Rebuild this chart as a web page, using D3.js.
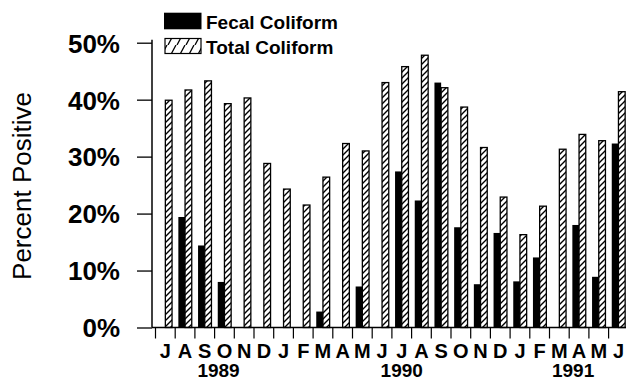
<!DOCTYPE html>
<html>
<head>
<meta charset="utf-8">
<script src="https://d3js.org/d3.v7.min.js"></script>
<style>
  body { margin: 0; background: white; }
  .ylab text { font-family: "Liberation Sans", Arial, sans-serif; font-weight: bold; font-size: 26px; fill: black; }
  .xlab text { font-family: "Liberation Sans", Arial, sans-serif; font-weight: bold; font-size: 20px; fill: black; }
  .year { font-family: "Liberation Sans", Arial, sans-serif; font-weight: bold; font-size: 19px; }
  .title { font-family: "Liberation Sans", Arial, sans-serif; font-size: 26px; }
  .legend text { font-family: "Liberation Sans", Arial, sans-serif; font-weight: bold; font-size: 19px; }
</style>
</head>
<body>
<svg id="chart" width="626" height="381"></svg>
<script>
// month labels, Jul 1989 .. Jun 1991
var months = ["J","A","S","O","N","D","J","F","M","A","M","J","J","A","S","O","N","D","J","F","M","A","M","J"];
// percent positive
var fecal = [0,19.4,14.4,8.0,0,0,0,0,2.8,0,7.2,0,27.4,22.3,43.0,17.6,7.6,16.6,8.1,12.3,0,18.0,8.9,32.3];
var total = [39.9,41.7,43.3,39.3,40.3,28.8,24.3,21.5,26.4,32.3,31.0,43.0,45.8,47.8,42.1,38.7,31.6,22.9,16.3,21.3,31.3,33.9,32.8,41.4];
var yTicks = [0,10,20,30,40,50];
var years = ["1989","1990","1991"];
var series = ["Fecal Coliform","Total Coliform"];

var svg = d3.select("#chart");

// pattern for the hatched bars
var defs = svg.append("defs");
defs.append("pattern")
    .attr("id","hatch").attr("patternUnits","userSpaceOnUse")
    .attr("width",6).attr("height",6)
  .append("path")
    .attr("d","M-1,7 L7,-1 M-2,2 L2,-2 M4,8 L8,4")
    .attr("stroke","black").attr("stroke-width",1.4);
defs.append("pattern")
    .attr("id","hatch2").attr("patternUnits","userSpaceOnUse")
    .attr("width",9).attr("height",15)
  .append("path")
    .attr("d","M-3,15 L5,0 M6,15 L14,0")
    .attr("stroke","black").attr("stroke-width",1.3);

var idx = d3.range(months.length);

var x = d3.scaleBand().domain(idx).range([155.5, 628.3]).padding(0);
var inner = d3.scaleBand().domain(["f","t"]).range([0, 13.4]);
var y = d3.scaleLinear().domain([0,50]).range([327.5, 42.7]);
var off = (x.bandwidth() - 13.4) / 2;

// bars
var g = svg.append("g");
g.selectAll(".fecal").data(idx.filter(function(i){ return fecal[i] > 0; }))
  .enter().append("rect")
    .attr("class","fecal")
    .attr("x", function(i){ return x(i) + off + inner("f"); })
    .attr("y", function(i){ return y(fecal[i]); })
    .attr("width", inner.bandwidth())
    .attr("height", function(i){ return y(0) - y(fecal[i]); })
    .attr("fill","black");

g.selectAll(".total").data(idx)
  .enter().append("rect")
    .attr("class","total")
    .attr("x", function(i){ return x(i) + off + inner("t"); })
    .attr("y", function(i){ return y(total[i]); })
    .attr("width", inner.bandwidth())
    .attr("height", function(i){ return y(0) - y(total[i]); })
    .attr("fill","url(#hatch)")
    .attr("stroke","black").attr("stroke-width",1.3);

// y axis
var ya = svg.append("g")
    .attr("class","ylab")
    .attr("transform","translate(152,0)")
    .call(d3.axisLeft(y).tickValues(yTicks).tickSize(15).tickPadding(17)
      .tickFormat(function(d){ return d + "%"; }));
ya.select(".domain").remove();
ya.selectAll("line").attr("stroke","black").attr("stroke-width",1.3);
ya.selectAll("text").attr("dy","0.36em");
svg.append("line")
    .attr("x1",152).attr("x2",152).attr("y1",y(50) - 3).attr("y2",y(0))
    .attr("stroke","black").attr("stroke-width",1.5);

// x axis
var xa = svg.append("g")
    .attr("class","xlab")
    .attr("transform","translate(0," + y(0) + ")")
    .call(d3.axisBottom(x).tickSize(0).tickPadding(0)
      .tickFormat(function(i){ return months[i]; }));
xa.select(".domain").remove();
xa.selectAll("text").attr("y", 30).attr("dy", 0);
svg.append("line")
    .attr("x1",152).attr("x2",626).attr("y1",y(0)).attr("y2",y(0))
    .attr("stroke","black").attr("stroke-width",1.5);
svg.selectAll(".bt").data(idx.concat([months.length]))
  .enter().append("line")
    .attr("x1", function(i){ return x.step() * i + x.range()[0]; })
    .attr("x2", function(i){ return x.step() * i + x.range()[0]; })
    .attr("y1", y(0)).attr("y2", y(0) + 11)
    .attr("stroke","black").attr("stroke-width",1.2);

// year labels under the month row
var yearAt = [3.2, 12.5, 21.2];
svg.selectAll(".year").data(years)
  .enter().append("text")
    .attr("class","year")
    .attr("x", function(d, k){ return x.range()[0] + x.step() * yearAt[k]; })
    .attr("y", 377)
    .attr("text-anchor","middle")
    .text(function(d){ return d; });

// y title
svg.append("text")
    .attr("class","title")
    .attr("transform","translate(31,186) rotate(-90)")
    .attr("text-anchor","middle")
    .text("Percent Positive");

// legend
var lg = svg.append("g").attr("class","legend");
lg.append("rect").attr("x",164).attr("y",12.7).attr("width",37.5).attr("height",16.6).attr("fill","black");
lg.append("rect").attr("x",165).attr("y",38.5).attr("width",36).attr("height",15)
    .attr("fill","url(#hatch2)").attr("stroke","black").attr("stroke-width",1.2);
lg.selectAll("text").data(series)
  .enter().append("text")
    .attr("x",206)
    .attr("y", function(d, k){ return 29.3 + k * 24.2; })
    .text(function(d){ return d; });
</script>
</body>
</html>
